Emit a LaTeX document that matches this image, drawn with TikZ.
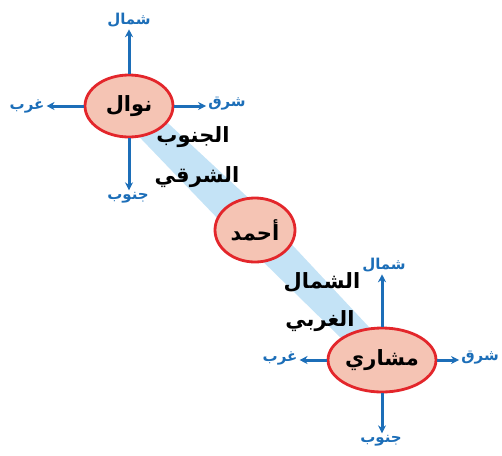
\documentclass[tikz,border=0pt]{standalone}
\usepackage{fontspec}
\usetikzlibrary{arrows.meta,calc,shapes.geometric}
\TeXXeTstate=1
\newfontfamily\arfont[Script=Arabic]{DejaVu Sans}
\newcommand\AR[1]{{\arfont\bfseries\beginR #1\endR}}
\definecolor{ellfill}{HTML}{F5C4B4}
\definecolor{ellline}{HTML}{E3262B}
\definecolor{dirblue}{HTML}{1C6EB8}
\definecolor{bandblue}{HTML}{C4E3F6}
\tikzset{
  person/.style={ellipse, draw=ellline, fill=ellfill, line width=2.8pt, inner sep=0pt, font=\fontsize{21}{24}\selectfont},
  dirlabel/.style={text=dirblue, inner sep=1pt, font=\fontsize{15}{17}\selectfont},
  pathlabel/.style={text=black, inner sep=0pt, font=\fontsize{21}{24}\selectfont},
  dirarrow/.style={draw=dirblue, line width=3pt, -{Stealth[length=8pt,width=8pt]}, shorten >=1pt},
  band/.style={fill=bandblue, draw=none}
}
\begin{document}
\begin{tikzpicture}[x=1pt,y=-1pt]
\useasboundingbox (0,0) rectangle (502,455);
\coordinate (cN) at (129,106);
\coordinate (cA) at (255,230);
\coordinate (cM) at (382,360);
% bands
\fill[band] ($(cN)!14pt!90:(cA)$) -- ($(cN)!14pt!-90:(cA)$) -- ($(cA)!19pt!90:(cN)$) -- ($(cA)!19pt!-90:(cN)$) -- cycle;
\fill[band] ($(cA)!17pt!90:(cM)$) -- ($(cA)!17pt!-90:(cM)$) -- ($(cM)!13pt!90:(cA)$) -- ($(cM)!13pt!-90:(cA)$) -- cycle;
% persons
\node[person, minimum width=88pt, minimum height=62pt] (nawal) at (cN) {\AR{نوال}};
\node[person, minimum width=80pt, minimum height=64pt] (ahmad) at (cA) {\AR{أحمد}};
\node[person, minimum width=108pt, minimum height=64pt] (mishari) at (cM) {\AR{مشاري}};
% labels around nawal
\node[dirlabel] (nN) at (129,20) {\AR{شمال}};
\node[dirlabel] (nW) at (27,106) {\AR{غرب}};
\node[dirlabel] (nE) at (227,104) {\AR{شرق}};
\node[dirlabel] (nS) at (128,198) {\AR{جنوب}};
\draw[dirarrow] (nawal.north) -- (nN.south);
\draw[dirarrow] (nawal.west) -- (nW.east);
\draw[dirarrow] (nawal.east) -- (nE.west |- nawal.east);
\draw[dirarrow] (nawal.south) -- (nS.north -| nawal.south);
% labels around mishari
\node[dirlabel] (mN) at (384,265) {\AR{شمال}};
\node[dirlabel] (mW) at (280,358) {\AR{غرب}};
\node[dirlabel] (mE) at (480,358) {\AR{شرق}};
\node[dirlabel] (mS) at (381,441) {\AR{جنوب}};
\draw[dirarrow] (mishari.north) -- (mN.south -| mishari.north);
\draw[dirarrow] (mishari.west) -- (mW.east |- mishari.west);
\draw[dirarrow] (mishari.east) -- (mE.west |- mishari.east);
\draw[dirarrow] (mishari.south) -- (mS.north -| mishari.south);
% path labels
\node[pathlabel] (se1) at (193,137) {\AR{الجنوب}};
\node[pathlabel] (se2) at (197,177) {\AR{الشرقي}};
\node[pathlabel] (nw1) at (322,282) {\AR{الشمال}};
\node[pathlabel] (nw2) at (320,321) {\AR{الغربي}};
\end{tikzpicture}
\end{document}
